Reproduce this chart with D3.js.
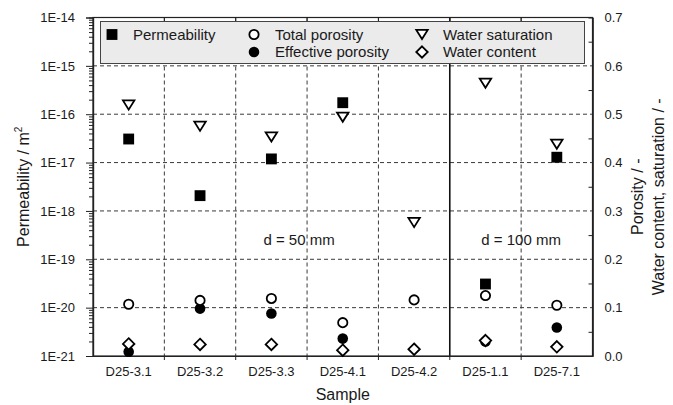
<!DOCTYPE html>
<html>
<head>
<meta charset="utf-8">
<script src="https://cdn.jsdelivr.net/npm/d3@7/dist/d3.min.js"></script>
<style>
  html, body { margin: 0; padding: 0; background: #fff; }
  svg { display: block; font-family: "Liberation Sans", Arial, sans-serif; }
</style>
</head>
<body>
<svg id="chart" width="673" height="405"></svg>
<script>
// Samples along the x axis
const categories = ["D25-3.1", "D25-3.2", "D25-3.3", "D25-4.1", "D25-4.2", "D25-1.1", "D25-7.1"];

// Permeability in m² (left, logarithmic axis); null = not measured
const permeability = [3.07e-17, 2.07e-18, 1.19e-17, 1.73e-16, null, 3.08e-20, 1.29e-17];

// Dimensionless quantities (right, linear axis)
const totalPorosity = [0.107, 0.115, 0.119, 0.069, 0.116, 0.125, 0.105];
const effectivePorosity = [0.009, 0.098, 0.088, 0.036, null, 0.030, 0.059];
const waterSaturation = [0.519, 0.475, 0.453, 0.494, 0.276, 0.564, 0.438];
const waterContent = [0.025, 0.024, 0.024, 0.012, 0.014, 0.032, 0.019];

// Axis ticks
const permTicks = [1e-21, 1e-20, 1e-19, 1e-18, 1e-17, 1e-16, 1e-15, 1e-14];
const permTickLabels = ["1E-21", "1E-20", "1E-19", "1E-18", "1E-17", "1E-16", "1E-15", "1E-14"];
const fracTicks = [0.0, 0.1, 0.2, 0.3, 0.4, 0.5, 0.6, 0.7];
const fracTickLabels = ["0.0", "0.1", "0.2", "0.3", "0.4", "0.5", "0.6", "0.7"];

// The two sample diameters are separated by a solid line after this sample
const dividerAfter = "D25-4.2";
const groupLabels = ["d = 50 mm", "d = 100 mm"];

const svg = d3.select("#chart");
const plot = { left: 93, right: 592.5, top: 17.5, bottom: 356 };
const ink = "#1a1a1a";
const gridColor = "#3a3a3a";

const x = d3.scaleBand().domain(categories).range([plot.left, plot.right]).padding(0);
const yPerm = d3.scaleLog().domain([1e-21, 1e-14]).range([plot.bottom, plot.top]);
const yFrac = d3.scaleLinear().domain([0, 0.7]).range([plot.bottom, plot.top]);

const cx = c => x(c) + x.bandwidth() / 2;

// ---- grid ----
const grid = svg.append("g");
permTicks.slice(1, -1).forEach(v => {
  grid.append("line")
    .attr("x1", plot.left).attr("x2", plot.right)
    .attr("y1", yPerm(v)).attr("y2", yPerm(v))
    .attr("stroke", gridColor).attr("stroke-width", 1)
    .attr("stroke-dasharray", "4,3");
});
categories.slice(0, -1).forEach(c => {
  const bx = x(c) + x.bandwidth();
  const solid = c === dividerAfter;
  grid.append("line")
    .attr("x1", bx).attr("x2", bx)
    .attr("y1", plot.top).attr("y2", plot.bottom)
    .attr("stroke", solid ? "#111" : gridColor)
    .attr("stroke-width", solid ? 1.6 : 1)
    .attr("stroke-dasharray", solid ? null : "4,3");
});

// ---- frame ----
svg.append("rect")
  .attr("x", plot.left).attr("y", plot.top)
  .attr("width", plot.right - plot.left).attr("height", plot.bottom - plot.top)
  .attr("fill", "none").attr("stroke", "#222").attr("stroke-width", 1.2);

// ---- left log axis ----
svg.append("g").attr("transform", `translate(${plot.left},0)`)
  .call(d3.axisLeft(yPerm).tickValues(permTicks)
    .tickFormat((d, i) => permTickLabels[i]).tickSize(7).tickPadding(11));
const minorPerm = [];
permTicks.slice(0, -1).forEach(d => { for (let k = 2; k <= 9; k++) minorPerm.push(d * k); });
svg.append("g").attr("transform", `translate(${plot.left},0)`)
  .call(d3.axisLeft(yPerm).tickValues(minorPerm).tickFormat("").tickSize(4));

// ---- right linear axis ----
svg.append("g").attr("transform", `translate(${plot.right},0)`)
  .call(d3.axisRight(yFrac).tickValues(fracTicks)
    .tickFormat((d, i) => fracTickLabels[i]).tickSize(0).tickPadding(12));
svg.append("g").attr("transform", `translate(${plot.right},0)`)
  .call(d3.axisLeft(yFrac).tickValues(d3.range(0.05, 0.7, 0.1)).tickFormat("").tickSize(4));

// ---- bottom axis (labels at centres, ticks at sample boundaries) ----
svg.append("g").attr("transform", `translate(0,${plot.bottom})`)
  .call(d3.axisBottom(x).tickSize(0).tickPadding(11));
const bounds = categories.slice(0, -1).map(c => x(c) + x.bandwidth());
svg.append("g").selectAll("line").data(bounds).join("line")
  .attr("x1", d => d).attr("x2", d => d)
  .attr("y1", plot.bottom).attr("y2", plot.bottom + 4)
  .attr("stroke", "#222");
svg.append("g").selectAll("line").data(bounds).join("line")
  .attr("x1", d => d).attr("x2", d => d)
  .attr("y1", plot.top).attr("y2", plot.top + 4)
  .attr("stroke", "#222");

svg.selectAll(".domain").attr("stroke", "#222").attr("stroke-width", 1.2);
svg.selectAll(".tick line").attr("stroke", "#222");
svg.selectAll(".tick text").attr("fill", ink).attr("font-size", 13)
  .attr("font-family", "'Liberation Sans', Arial, sans-serif");

// ---- axis titles ----
const leftTitle = svg.append("text")
  .attr("transform", `translate(29,${(plot.top + plot.bottom) / 2}) rotate(-90)`)
  .attr("text-anchor", "middle").attr("font-size", 16).attr("fill", ink);
leftTitle.append("tspan").text("Permeability / m");
leftTitle.append("tspan").attr("font-size", 10).attr("dy", -7).text("2");

svg.append("text")
  .attr("transform", `translate(643,${(plot.top + plot.bottom) / 2 + 10}) rotate(-90)`)
  .attr("text-anchor", "middle").attr("font-size", 16).attr("fill", ink)
  .text("Porosity / -");
svg.append("text")
  .attr("transform", `translate(664,${(plot.top + plot.bottom) / 2 + 10}) rotate(-90)`)
  .attr("text-anchor", "middle").attr("font-size", 16).attr("fill", ink)
  .text("Water content, saturation / -");

svg.append("text")
  .attr("x", (plot.left + plot.right) / 2).attr("y", 400)
  .attr("text-anchor", "middle").attr("font-size", 16).attr("fill", ink)
  .text("Sample");

// ---- group annotations ----
const splitX = x(dividerAfter) + x.bandwidth();
svg.append("text").attr("x", x("D25-3.3") + x.bandwidth() - 8).attr("y", 245)
  .attr("text-anchor", "middle").attr("font-size", 15).attr("fill", ink).text(groupLabels[0]);
svg.append("text").attr("x", (splitX + plot.right) / 2).attr("y", 245)
  .attr("text-anchor", "middle").attr("font-size", 15).attr("fill", ink).text(groupLabels[1]);

// ---- marker shapes ----
const downTriangle = {
  draw(ctx, size) {
    const w = Math.sqrt(size) * 1.35, h = w * 0.8;
    ctx.moveTo(-w / 2, -h / 2);
    ctx.lineTo(w / 2, -h / 2);
    ctx.lineTo(0, h / 2);
    ctx.closePath();
  }
};
const tiltedSquare = {
  draw(ctx, size) {
    const r = Math.sqrt(size) / 2 * 1.41;
    ctx.moveTo(0, -r); ctx.lineTo(r, 0); ctx.lineTo(0, r); ctx.lineTo(-r, 0); ctx.closePath();
  }
};
const markers = {
  perm:  { path: d3.symbol(d3.symbolSquare, 118)(), fill: "#000", stroke: "none", sw: 0 },
  sat:   { path: d3.symbol(downTriangle, 72)(), fill: "#fff", stroke: "#000", sw: 1.8 },
  eff:   { path: d3.symbol(d3.symbolCircle, 88)(), fill: "#000", stroke: "none", sw: 0 },
  tot:   { path: d3.symbol(d3.symbolCircle, 68)(), fill: "#fff", stroke: "#000", sw: 1.8 },
  wc:    { path: d3.symbol(tiltedSquare, 66)(), fill: "#fff", stroke: "#000", sw: 1.8 }
};

function drawSeries(values, scale, m) {
  const pts = categories.map((c, i) => ({ c, v: values[i] })).filter(d => d.v !== null);
  svg.append("g").selectAll("path").data(pts).join("path")
    .attr("d", m.path)
    .attr("transform", d => `translate(${cx(d.c)},${scale(d.v)})`)
    .attr("fill", m.fill).attr("stroke", m.stroke).attr("stroke-width", m.sw);
}

drawSeries(permeability, yPerm, markers.perm);
drawSeries(waterSaturation, yFrac, markers.sat);
drawSeries(effectivePorosity, yFrac, markers.eff);
drawSeries(totalPorosity, yFrac, markers.tot);
drawSeries(waterContent, yFrac, markers.wc);

// ---- legend ----
const legend = svg.append("g");
legend.append("rect")
  .attr("x", 100.5).attr("y", 21.5).attr("width", 484).attr("height", 42)
  .attr("fill", "#ebebeb").attr("stroke", "#444").attr("stroke-width", 1);
const legendItems = [
  { m: markers.perm, label: "Permeability", x: 112, y: 34.5 },
  { m: markers.tot, label: "Total porosity", x: 254, y: 34.5 },
  { m: markers.eff, label: "Effective porosity", x: 254, y: 52 },
  { m: markers.sat, label: "Water saturation", x: 422, y: 34.5 },
  { m: markers.wc, label: "Water content", x: 422, y: 52 }
];
legendItems.forEach(it => {
  legend.append("path").attr("d", it.m.path)
    .attr("transform", `translate(${it.x},${it.y})`)
    .attr("fill", it.m.fill).attr("stroke", it.m.stroke).attr("stroke-width", it.m.sw);
  legend.append("text").attr("x", it.x + 21).attr("y", it.y + 5)
    .attr("font-size", 15).attr("fill", ink).text(it.label);
});
</script>
</body>
</html>
